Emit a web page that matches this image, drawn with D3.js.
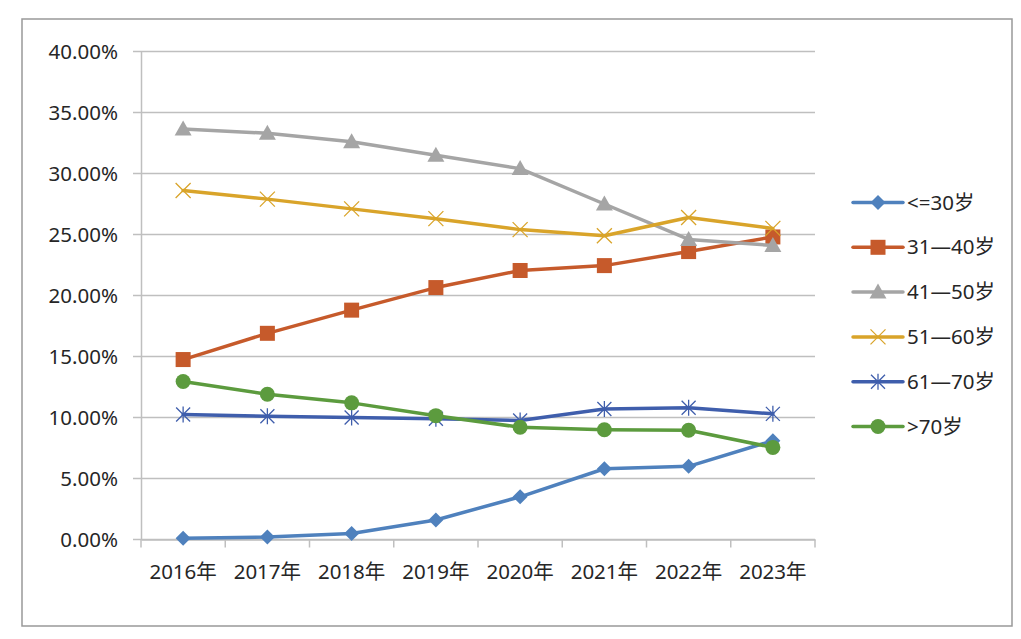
<!DOCTYPE html>
<html><head><meta charset="utf-8">
<script src="https://cdn.jsdelivr.net/npm/d3@7"></script>
<style>body{margin:0;background:#fff}svg{display:block}</style>
</head><body>
<svg id="c" width="1021" height="639"></svg>
<script>
const years = ["2016年","2017年","2018年","2019年","2020年","2021年","2022年","2023年"];
const seriesNames = ["<=30岁","31—40岁","41—50岁","51—60岁","61—70岁",">70岁"];
const s_le30  = [0.1, 0.2, 0.5, 1.6, 3.5, 5.8, 6.0, 8.1];
const s_31_40 = [14.75, 16.9, 18.8, 20.65, 22.05, 22.45, 23.6, 24.8];
const s_41_50 = [33.65, 33.3, 32.6, 31.5, 30.4, 27.5, 24.6, 24.1];
const s_51_60 = [28.6, 27.9, 27.1, 26.3, 25.4, 24.9, 26.4, 25.5];
const s_61_70 = [10.25, 10.1, 10.0, 9.9, 9.75, 10.7, 10.8, 10.3];
const s_gt70  = [12.95, 11.9, 11.2, 10.15, 9.2, 9.0, 8.95, 7.55];
const yTicks = [0,5,10,15,20,25,30,35,40];

const seriesVals = [s_le30, s_31_40, s_41_50, s_51_60, s_61_70, s_gt70];
const colors = ["#4F81BD","#C65A2B","#A5A5A5","#D9A42A","#3F5EAC","#5C9B3E"];
const markers = ["diamond","square","triangle","x","star","circle"];

const svg = d3.select("#c");
const font = "'Noto Sans','Noto Sans CJK SC',sans-serif";
const fs = 20.5;

svg.append("rect").attr("x",22).attr("y",19).attr("width",990).attr("height",607)
  .attr("fill","#fff").attr("stroke","#999").attr("stroke-width",1.5);

const L=141, R=815, T=51.5, B=539.5;
const x = d3.scaleBand().domain(years).range([L,R]);
const y = d3.scaleLinear().domain([0,40]).range([B,T]);

svg.append("g").selectAll("line").data(yTicks).join("line")
  .attr("x1",L-8).attr("x2",R).attr("y1",d=>y(d)).attr("y2",d=>y(d))
  .attr("stroke","#BFBFBF").attr("stroke-width",1.5);

const yAxis = d3.axisLeft(y).tickValues(yTicks).tickSize(0).tickPadding(23)
  .tickFormat(d=>d.toFixed(2)+"%");
const gy = svg.append("g").attr("transform",`translate(${L},0)`).call(yAxis);
gy.select(".domain").attr("stroke","#BFBFBF").attr("stroke-width",1.5);
gy.selectAll("text").attr("font-family",font).attr("font-size",fs).attr("fill","#262626");

const xAxis = d3.axisBottom(x).tickSize(0).tickPadding(25);
const gx = svg.append("g").attr("transform",`translate(0,${B})`).call(xAxis);
gx.select(".domain").attr("stroke","#BFBFBF").attr("stroke-width",1.5);
gx.selectAll("text").attr("font-family",font).attr("font-size",fs).attr("fill","#262626");
const edges = years.map(d=>x(d)).concat([R]);
svg.append("g").selectAll("line").data(edges).join("line")
  .attr("x1",d=>d).attr("x2",d=>d).attr("y1",B).attr("y2",B+8)
  .attr("stroke","#BFBFBF").attr("stroke-width",1.5);

function drawMarker(g, type, cx, cy, color){
  if(type==="diamond"){
    g.append("path").attr("d",`M${cx},${cy-7.5}L${cx+7.5},${cy}L${cx},${cy+7.5}L${cx-7.5},${cy}Z`).attr("fill",color);
  } else if(type==="square"){
    g.append("rect").attr("x",cx-7.5).attr("y",cy-7.5).attr("width",15).attr("height",15).attr("fill",color);
  } else if(type==="triangle"){
    g.append("path").attr("d",`M${cx},${cy-8.5}L${cx+8.5},${cy+6.5}L${cx-8.5},${cy+6.5}Z`).attr("fill",color);
  } else if(type==="circle"){
    g.append("circle").attr("cx",cx).attr("cy",cy).attr("r",7.5).attr("fill",color);
  } else if(type==="x"){
    g.append("path").attr("d",`M${cx-7.5},${cy-7.5}L${cx+7.5},${cy+7.5}M${cx+7.5},${cy-7.5}L${cx-7.5},${cy+7.5}`)
      .attr("stroke",color).attr("stroke-width",1.3).attr("fill","none");
  } else if(type==="star"){
    g.append("path").attr("d",`M${cx-7},${cy-7}L${cx+7},${cy+7}M${cx+7},${cy-7}L${cx-7},${cy+7}M${cx},${cy-8}L${cx},${cy+8}`)
      .attr("stroke",color).attr("stroke-width",1.3).attr("fill","none");
  }
}

const line = d3.line().x((d,i)=>x(years[i])+x.bandwidth()/2).y(d=>y(d));
seriesVals.forEach((vals,si)=>{
  const g = svg.append("g");
  g.append("path").datum(vals).attr("d",line).attr("fill","none")
    .attr("stroke",colors[si]).attr("stroke-width",3.5).attr("stroke-linejoin","round").attr("stroke-linecap","round");
  vals.forEach((v,i)=>drawMarker(g, markers[si], x(years[i])+x.bandwidth()/2, y(v), colors[si]));
});

const lg = svg.append("g");
seriesNames.forEach((n,i)=>{
  const cy = 202.5 + i*44.8;
  const g = lg.append("g");
  g.append("line").attr("x1",853).attr("x2",903).attr("y1",cy).attr("y2",cy)
    .attr("stroke",colors[i]).attr("stroke-width",3.5).attr("stroke-linecap","round");
  drawMarker(g, markers[i], 878, cy, colors[i]);
  g.append("text").attr("x",907).attr("y",cy+7).text(n)
    .attr("font-family",font).attr("font-size",fs).attr("fill","#262626");
});
</script>
</body></html>
